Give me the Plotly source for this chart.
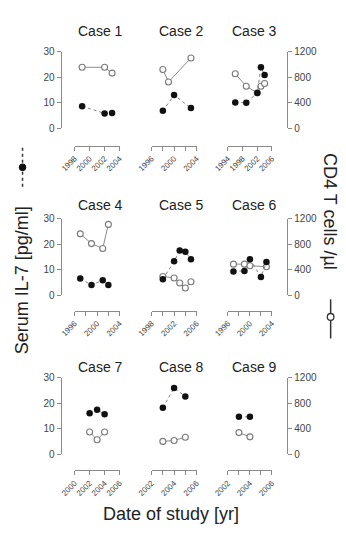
import plotly.graph_objects as go

# ---------------- data ----------------
cases = ["Case 1", "Case 2", "Case 3", "Case 4", "Case 5", "Case 6", "Case 7", "Case 8", "Case 9"]

il7_years = [
    [1999, 2002, 2003],
    [1998, 2000, 2003],
    [1996, 1999, 2002, 2003, 2004],
    [1997, 1999, 2001, 2002],
    [2000, 2002, 2003, 2004, 2005],
    [1997, 1999, 2000, 2002, 2003],
    [2002, 2003, 2004],
    [2003, 2004, 2005],
    [2003, 2004],
]
il7_values = [
    [8.6, 5.8, 6.0],
    [6.8, 13.0, 7.9],
    [10.1, 10.0, 13.8, 23.9, 20.9],
    [6.6, 4.1, 5.9, 4.1],
    [6.3, 13.4, 17.6, 17.1, 14.2],
    [9.4, 9.6, 14.2, 7.2, 13.1],
    [16.0, 17.4, 15.6],
    [18.2, 25.9, 22.6],
    [14.6, 14.6],
]

cd4_years = [
    [1999, 2002, 2003],
    [1998, 1999, 2003],
    [1996, 1999, 2002, 2003, 2004],
    [1997, 1999, 2001, 2002],
    [2000, 2002, 2003, 2004, 2005],
    [1997, 1999, 2000, 2003],
    [2002, 2003, 2004],
    [2003, 2004, 2005],
    [2003, 2004],
]
cd4_values = [
    [955, 955, 864],
    [920, 725, 1100],
    [853, 658, 555, 658, 700],
    [965, 812, 736, 1113],
    [297, 273, 195, 115, 214],
    [490, 490, 465, 450],
    [346, 224, 346],
    [199, 214, 265],
    [337, 270],
]

x_ranges = [
    [1998, 2004], [1996, 2004], [1994, 2006],
    [1996, 2004], [1998, 2006], [1996, 2004],
    [2000, 2006], [2002, 2006], [2002, 2006],
]
x_tickvals = [
    [1998, 2000, 2002, 2004],
    [1996, 1998, 2000, 2002, 2004],
    [1994, 1998, 2002, 2006],
    [1996, 1998, 2000, 2002, 2004],
    [1998, 2000, 2002, 2004, 2006],
    [1996, 1998, 2000, 2002, 2004],
    [2000, 2002, 2004, 2006],
    [2002, 2003, 2004, 2005, 2006],
    [2002, 2003, 2004, 2005, 2006],
]
x_ticktext = [
    ["1998", "2000", "2002", "2004"],
    ["1996", "", "2000", "", "2004"],
    ["1994", "1998", "2002", "2006"],
    ["1996", "", "2000", "", "2004"],
    ["1998", "", "2002", "", "2006"],
    ["1996", "", "2000", "", "2004"],
    ["2000", "2002", "2004", "2006"],
    ["2002", "", "2004", "", "2006"],
    ["2002", "", "2004", "", "2006"],
]

il7_range = [0, 30]
il7_ticks = [0, 10, 20, 30]
cd4_range = [0, 1200]
cd4_ticks = [0, 400, 800, 1200]

# ---------------- layout geometry (pixels) ----------------
W, H = 346, 539
def fx(p): return p / W
def fy(p): return 1 - p / H

col_x = [(63.3, 111.0), (145.0, 192.7), (226.0, 272.7)]
row_y = [(46.7, 125.0), (217.7, 296.0), (380.0, 458.3)]
xline_y = [143.0, 311.7, 475.0]
left_axis_x = 48.3
right_axis_x = 289.0
title_x = [91.0, 177.0, 254.7]
title_y = [25.5, 203.5, 369.5]

FONT = "Liberation Sans, Arial, Helvetica, sans-serif"
AXCOL = "#8a8a8a"
TXT = "#222222"
TICKTXT = "#444444"

fig = go.Figure()
layout = dict(
    width=W, height=H,
    margin=dict(l=0, r=0, t=0, b=0),
    paper_bgcolor="white", plot_bgcolor="white",
    showlegend=False,
    font=dict(family=FONT, color=TXT),
)
annotations = []

for i in range(9):
    r, c = divmod(i, 3)
    n = i + 1
    m = i + 10
    xname = "x" if n == 1 else f"x{n}"
    ybase = "y" if n == 1 else f"y{n}"
    yover = f"y{m}"

    # CD4 (base axis, right side)
    fig.add_trace(go.Scatter(
        x=cd4_years[i], y=cd4_values[i], xaxis=xname, yaxis=ybase,
        mode="lines+markers",
        line=dict(color="#8c8c8c", width=1),
        marker=dict(size=6, color="white", line=dict(color="#7a7a7a", width=1.1)),
        cliponaxis=False,
    ))
    # IL-7 (overlay axis, left side)
    fig.add_trace(go.Scatter(
        x=il7_years[i], y=il7_values[i], xaxis=xname, yaxis=yover,
        mode="lines+markers",
        line=dict(color="#808080", width=1, dash="dot"),
        marker=dict(size=6.5, color="#111111"),
        cliponaxis=False,
    ))

    layout[f"xaxis{n}"] = dict(
        domain=[fx(col_x[c][0]), fx(col_x[c][1])],
        range=x_ranges[i], autorange=False,
        anchor="free", position=fy(xline_y[r]),
        showline=True, linecolor=AXCOL, linewidth=1,
        ticks="outside", ticklen=4, tickwidth=1, tickcolor=AXCOL,
        tickvals=x_tickvals[i], ticktext=x_ticktext[i],
        tickangle=-45, tickfont=dict(size=8, color=TICKTXT, family=FONT),
        showgrid=False, zeroline=False, fixedrange=True,
    )
    layout[f"yaxis{n}"] = dict(
        domain=[fy(row_y[r][1]), fy(row_y[r][0])],
        range=cd4_range, autorange=False,
        anchor="free", position=fx(right_axis_x), side="right",
        visible=(c == 2),
        showline=True, linecolor=AXCOL, linewidth=1,
        ticks="outside", ticklen=4, tickwidth=1, tickcolor=AXCOL,
        tickvals=cd4_ticks, tickfont=dict(size=10, color=TICKTXT, family=FONT),
        showgrid=False, zeroline=False, fixedrange=True,
    )
    layout[f"yaxis{m}"] = dict(
        overlaying=ybase,
        range=il7_range, autorange=False,
        anchor="free", position=fx(left_axis_x), side="left",
        visible=(c == 0),
        showline=True, linecolor=AXCOL, linewidth=1,
        ticks="outside", ticklen=4, tickwidth=1, tickcolor=AXCOL,
        tickvals=il7_ticks, tickfont=dict(size=10, color=TICKTXT, family=FONT),
        showgrid=False, zeroline=False, fixedrange=True,
    )
    annotations.append(dict(
        text=cases[i], xref="paper", yref="paper",
        x=fx(title_x[c]), y=fy(title_y[r]),
        xanchor="center", yanchor="middle", showarrow=False,
        font=dict(size=14, color=TXT, family=FONT),
    ))

annotations += [
    dict(text="Serum IL-7 [pg/ml]", xref="paper", yref="paper",
         x=fx(7), y=fy(281), textangle=-90, xanchor="center", yanchor="middle",
         showarrow=False, font=dict(size=18, color=TXT, family=FONT)),
    dict(text="CD4 T cells /µl", xref="paper", yref="paper",
         x=fx(333.5), y=fy(210), textangle=90, xanchor="center", yanchor="middle",
         showarrow=False, font=dict(size=18, color=TXT, family=FONT)),
    dict(text="Date of study [yr]", xref="paper", yref="paper",
         x=fx(165.5), y=fy(520), xanchor="center", yanchor="middle",
         showarrow=False, font=dict(size=18, color=TXT, family=FONT)),
]
layout["annotations"] = annotations

# legend-like key symbols beside the axis titles
layout["shapes"] = [
    dict(type="line", xref="paper", yref="paper", x0=fx(8), x1=fx(8), y0=fy(145), y1=fy(185),
         line=dict(color="#333333", width=1.5, dash="dot")),
    dict(type="circle", xref="paper", yref="paper", x0=fx(4.5), x1=fx(11.5), y0=fy(168.5), y1=fy(161.5),
         fillcolor="#111111", line=dict(color="#111111", width=1)),
    dict(type="line", xref="paper", yref="paper", x0=fx(335), x1=fx(335), y0=fy(300), y1=fy(340),
         line=dict(color="#333333", width=1.5)),
    dict(type="circle", xref="paper", yref="paper", x0=fx(331.5), x1=fx(338.5), y0=fy(321.5), y1=fy(314.5),
         fillcolor="white", line=dict(color="#333333", width=1.3)),
]

fig.update_layout(**layout)
fig.write_html("out.html")
